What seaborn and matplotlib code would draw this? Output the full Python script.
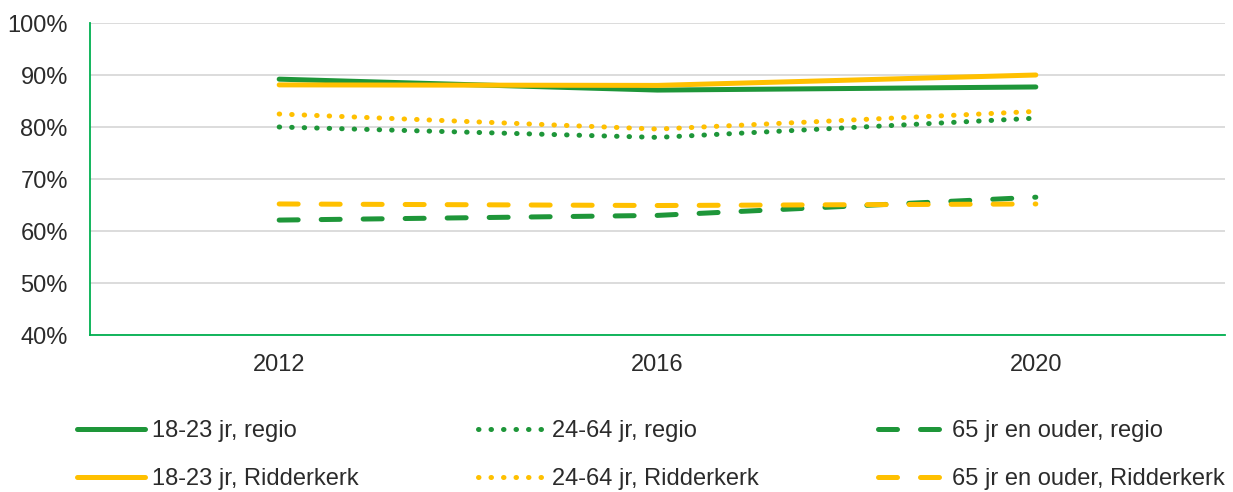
import matplotlib
matplotlib.use("Agg")
import matplotlib.pyplot as plt
import seaborn as sns
import pandas as pd
from matplotlib.ticker import PercentFormatter

years = ["2012", "2016", "2020"]
regio_18_23 = [89.2, 87.1, 87.7]
ridd_18_23 = [88.1, 88.0, 90.0]
regio_24_64 = [80.0, 78.0, 81.7]
ridd_24_64 = [82.5, 79.6, 83.0]
regio_65 = [62.1, 63.0, 66.5]
ridd_65 = [65.2, 64.9, 65.2]

green = "#1E9639"
yellow = "#FFC000"
dots = (0, (0.1, 2.4))
dashes = (0, (3.8, 4.6))

series = [
    ("18-23 jr, regio", regio_18_23, green, "-"),
    ("18-23 jr, Ridderkerk", ridd_18_23, yellow, "-"),
    ("24-64 jr, regio", regio_24_64, green, dots),
    ("24-64 jr, Ridderkerk", ridd_24_64, yellow, dots),
    ("65 jr en ouder, regio", regio_65, green, dashes),
    ("65 jr en ouder, Ridderkerk", ridd_65, yellow, dashes),
]

sns.set_style("white")
plt.rcParams['font.family'] = ['Liberation Sans', 'DejaVu Sans']

fig = plt.figure(figsize=(12.33, 4.92), dpi=100)
ax = fig.add_axes([90/1233, 1-335/492, 1135/1233, 312/492])

for name, vals, col, ls in series:
    df = pd.DataFrame({"x": range(len(years)), "y": vals})
    sns.lineplot(data=df, x="x", y="y", ax=ax, color=col, lw=3.6,
                 linestyle=ls, label=name, solid_capstyle="round",
                 dash_capstyle="round")

ax.set_xlim(-0.5, 2.5)
ax.set_ylim(40, 100)
ax.set_yticks(range(40, 101, 10))
ax.yaxis.set_major_formatter(PercentFormatter(decimals=0))
ax.set_xticks(range(len(years)))
ax.set_xticklabels(years)
ax.set_xlabel("")
ax.set_ylabel("")
ax.grid(axis="y", color="#D9D9D9", lw=1.3)
ax.set_axisbelow(True)
for s in ["top", "right"]:
    ax.spines[s].set_visible(False)
for s in ["left", "bottom"]:
    ax.spines[s].set_color("#00B050")
    ax.spines[s].set_linewidth(1.3)
ax.tick_params(axis="both", length=0, labelsize=17, colors="#2b2b2b")
ax.tick_params(axis="y", pad=16)
ax.tick_params(axis="x", pad=14)

ax.legend(loc="upper left", bbox_to_anchor=(-12.5/1135, -0.272), ncol=3,
          frameon=False, fontsize=17, handlelength=2.85, handletextpad=0.3,
          columnspacing=5.05, labelspacing=1.1, borderpad=0,
          borderaxespad=0, labelcolor="#2b2b2b")

fig.savefig("out.png", dpi=100)
